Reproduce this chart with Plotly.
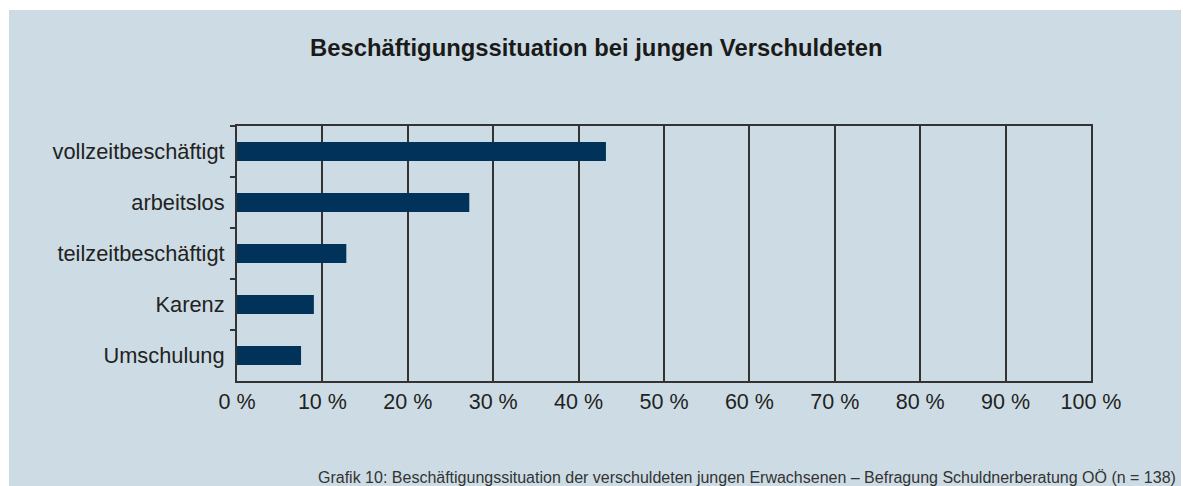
import plotly.graph_objects as go

categories = ["vollzeitbeschäftigt", "arbeitslos", "teilzeitbeschäftigt", "Karenz", "Umschulung"]
values = [43.2, 27.2, 12.8, 9.0, 7.5]
x_ticks = [0, 10, 20, 30, 40, 50, 60, 70, 80, 90, 100]
x_tick_labels = [f"{v} %" for v in x_ticks]
title_text = "Beschäftigungssituation bei jungen Verschuldeten"
caption_text = "Grafik 10: Beschäftigungssituation der verschuldeten jungen Erwachsenen – Befragung Schuldnerberatung OÖ (n = 138)"

W, H = 1183, 486
L, R, T, B = 237, 1183 - 1091, 126, 486 - 381
pw, ph = W - L - R, H - T - B

def px_x(p):
    return (p - L) / pw

def px_y(p):
    return (H - B - p) / ph

panel = "#cddce4"
bar_color = "#00325a"
line_color = "#333333"
font_family = "Liberation Sans, Arial, sans-serif"

fig = go.Figure()
fig.add_trace(go.Bar(
    y=categories, x=values, orientation="h",
    marker=dict(color=bar_color, line=dict(width=0)),
    hoverinfo="skip",
))

fig.update_layout(
    width=W, height=H,
    margin=dict(l=L, r=R, t=T, b=B, pad=0),
    paper_bgcolor="white",
    plot_bgcolor="rgba(0,0,0,0)",
    showlegend=False,
    bargap=0.63,
    font=dict(family=font_family, color="#222222", size=21.5),
    shapes=[dict(type="rect", xref="paper", yref="paper",
                 x0=px_x(9), x1=px_x(1181), y0=px_y(500), y1=px_y(10),
                 fillcolor=panel, line=dict(width=0), layer="below")],
    annotations=[
        dict(text=f"<b>{title_text}</b>", xref="paper", yref="paper",
             x=px_x(596), y=px_y(47), xanchor="center", yanchor="middle",
             showarrow=False, font=dict(size=23.8, color="#1a1a1a")),
        dict(text=caption_text, xref="paper", yref="paper",
             x=px_x(1178), y=px_y(477), xanchor="right", yanchor="middle",
             showarrow=False, font=dict(size=16, color="#333333")),
    ],
)

fig.update_xaxes(
    range=[0, 100], tickvals=x_ticks, ticktext=x_tick_labels,
    showgrid=True, gridcolor=line_color, gridwidth=2,
    showline=True, linecolor=line_color, linewidth=2, mirror=True,
    ticks="", zeroline=False, fixedrange=True,
    tickfont=dict(size=21.5),
)
fig.update_yaxes(
    categoryorder="array", categoryarray=categories, autorange="reversed",
    tickson="boundaries", ticks="outside", ticklen=5, tickcolor=line_color, tickwidth=2,
    showline=True, linecolor=line_color, linewidth=2, mirror=True,
    showgrid=False, ticklabelstandoff=6, fixedrange=True,
    tickfont=dict(size=21.8),
)

fig.write_html(
    "out.html",
    config={"displayModeBar": False, "staticPlot": True},
    post_script="document.body.style.margin='0';document.body.style.overflow='hidden';",
)
